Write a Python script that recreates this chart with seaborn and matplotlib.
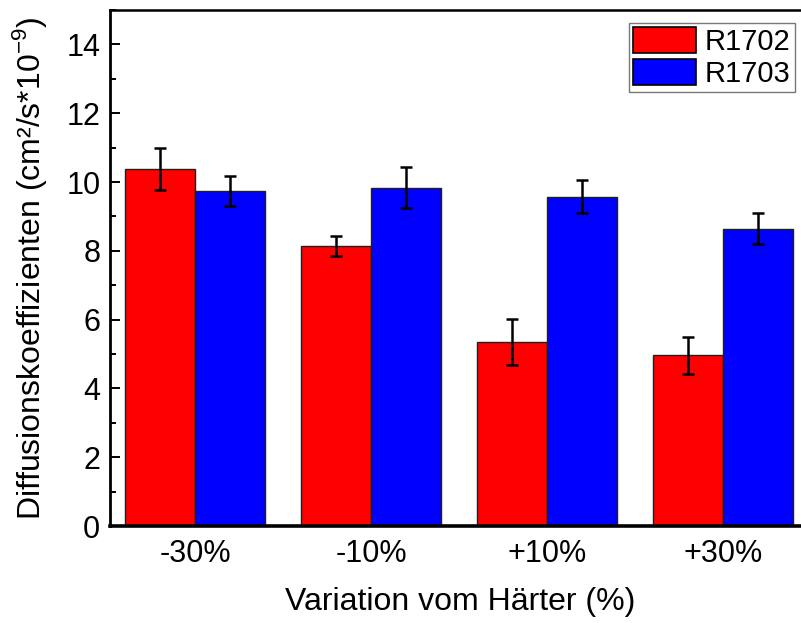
import matplotlib
matplotlib.use("Agg")
import matplotlib.pyplot as plt
import seaborn as sns
import pandas as pd
import numpy as np
from matplotlib.ticker import MultipleLocator

categories = ["-30%", "-10%", "+10%", "+30%"]
series_names = ["R1702", "R1703"]
r1702_values = [10.38, 8.14, 5.34, 4.96]
r1702_errors = [0.60, 0.28, 0.67, 0.54]
r1703_values = [9.74, 9.83, 9.57, 8.64]
r1703_errors = [0.43, 0.60, 0.48, 0.45]

df = pd.DataFrame({
    "cat": categories * 2,
    "series": [series_names[0]] * 4 + [series_names[1]] * 4,
    "value": r1702_values + r1703_values,
    "err": r1702_errors + r1703_errors,
})

sns.set_style("ticks")
plt.rcParams['font.family'] = ['Liberation Sans', 'DejaVu Sans']
plt.rcParams['text.color'] = 'black'
plt.rcParams['axes.labelcolor'] = 'black'
plt.rcParams['xtick.color'] = 'black'
plt.rcParams['ytick.color'] = 'black'
plt.rcParams['axes.edgecolor'] = 'black'

fig = plt.figure(figsize=(8.01, 6.23), dpi=100)
ax = fig.add_axes([110 / 801, 97 / 623, 700 / 801, 516 / 623])

sns.barplot(data=df, x="cat", y="value", hue="series", order=categories,
            hue_order=series_names, palette=["#ff0000", "#0000ff"],
            errorbar=None, width=0.8, edgecolor="#202020", linewidth=1.0,
            saturation=1, ax=ax)

# error bars at bar centers
for patch_container, name in zip(ax.containers, series_names):
    sub = df[df.series == name].set_index("cat").loc[categories]
    xs = [p.get_x() + p.get_width() / 2 for p in patch_container.patches]
    ax.errorbar(xs, sub["value"].values, yerr=sub["err"].values, fmt="none",
                ecolor="black", elinewidth=1.8, capsize=4, capthick=1.8, zorder=5)

ax.set_ylim(0, 15)
ax.set_xlim(-0.483, 3.494)
ax.set_yticks(np.arange(0, 15, 2))
ax.yaxis.set_minor_locator(MultipleLocator(1))
ax.tick_params(axis="y", which="major", direction="in", length=7, width=1.4,
               labelsize=22, pad=7)
ax.tick_params(axis="y", which="minor", direction="in", length=4, width=1.4)
ax.tick_params(axis="x", which="major", length=0, labelsize=22, pad=9)
ax.spines["right"].set_visible(False)
ax.spines["top"].set_visible(True)
ax.spines["top"].set_linewidth(1.8)
ax.spines["bottom"].set_linewidth(2.6)
ax.spines["left"].set_linewidth(2.0)

ax.set_xlabel("Variation vom Härter (%)", fontsize=23, labelpad=13)
ax.set_ylabel(r"Diffusionskoeffizienten (cm²/s*10$^{\mathregular{-9}}$)",
              fontsize=23, labelpad=12)

leg = ax.legend(loc="upper right", bbox_to_anchor=(795 / 801, 600 / 623),
                bbox_transform=fig.transFigure,
                fontsize=21, frameon=True, fancybox=False,
                edgecolor="#555555", handlelength=2.15, handleheight=1.0,
                handletextpad=0.3, borderpad=0.15, labelspacing=0.08,
                borderaxespad=0.0)
leg.get_frame().set_linewidth(1.0)
for h in leg.legend_handles:
    h.set_edgecolor("black")
    h.set_linewidth(1.2)

fig.savefig("out.png", dpi=100)
